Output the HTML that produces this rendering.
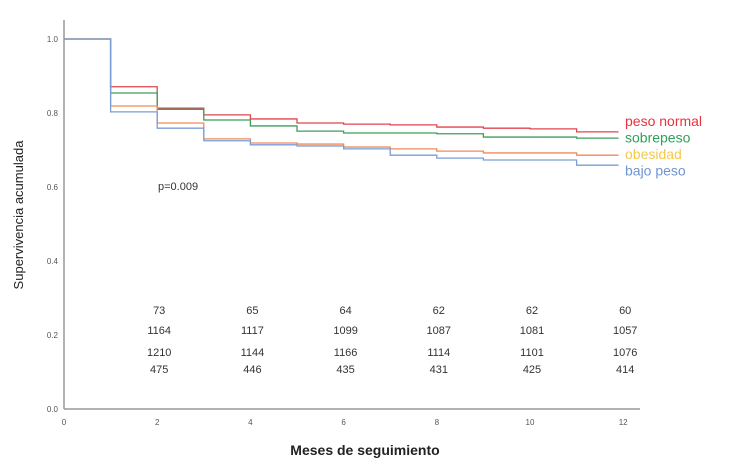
<!DOCTYPE html>
<html><head><meta charset="utf-8"><style>
body{margin:0;background:#fff;width:750px;height:469px;overflow:hidden;font-family:"Liberation Sans",sans-serif}
svg text{font-family:"Liberation Sans",sans-serif}
</style></head><body>
<svg id="chart" width="750" height="469" xmlns="http://www.w3.org/2000/svg">
<g id="axes"></g><g id="series"></g><g id="risk"></g><g id="legend"></g>
<text x="158" y="190" font-size="11" fill="#333">p=0.009</text>
<text x="365" y="455" font-size="14" font-weight="bold" text-anchor="middle" fill="#222">Meses de seguimiento</text>
<text transform="translate(23,215) rotate(-90)" font-size="13" text-anchor="middle" fill="#222">Supervivencia acumulada</text>
</svg>
<script>
const months=[0,1,2,3,4,5,6,7,8,9,10,11,11.9];
const seriesNames=["peso normal","sobrepeso","obesidad","bajo peso"];
const pesoNormal=[1,0.871,0.813,0.795,0.784,0.773,0.770,0.768,0.762,0.759,0.757,0.749,0.749];
const sobrepeso=[1,0.854,0.810,0.781,0.765,0.751,0.746,0.746,0.744,0.735,0.735,0.732,0.732];
const obesidad=[1,0.819,0.773,0.730,0.719,0.716,0.708,0.703,0.697,0.692,0.692,0.686,0.686];
const bajoPeso=[1,0.803,0.759,0.725,0.714,0.711,0.703,0.686,0.678,0.673,0.673,0.659,0.659];
const xTicks=[0,2,4,6,8,10,12];
const yTicks=[0,0.2,0.4,0.6,0.8,1.0];
const riskMonths=[2,4,6,8,10,12];
const riskNormal=[73,65,64,62,62,60];
const riskSobre=[1164,1117,1099,1087,1081,1057];
const riskObes=[1210,1144,1166,1114,1101,1076];
const riskBajo=[475,446,435,431,425,414];
const colors=["#e0454f","#3f9e5a","#f08a5a","#7a9fd6"];
const legendColors=["#e8323e","#2ea05a","#f5c84a","#6f95cf"];
const X=m=>64+m*46.6, Y=v=>409-v*370;
const NS="http://www.w3.org/2000/svg";
function mk(tag,attrs,parent){const e=document.createElementNS(NS,tag);for(const k in attrs)e.setAttribute(k,attrs[k]);parent.appendChild(e);return e;}
const ax=document.getElementById('axes');
let l=mk('line',{x1:64,y1:20,x2:64,y2:409,stroke:'#999','stroke-width':1.5},ax);

l=mk('line',{x1:64,y1:409,x2:640,y2:409,stroke:'#999','stroke-width':1.5},ax);

xTicks.forEach(t=>{const e=mk('text',{x:X(t),y:425,'font-size':8,'text-anchor':'middle',fill:'#555'},ax);e.textContent=t;
});
yTicks.forEach(t=>{const e=mk('text',{x:58,y:Y(t)+3,'font-size':8,'text-anchor':'end',fill:'#555'},ax);e.textContent=t.toFixed(1);
});
const sg=document.getElementById('series');
[pesoNormal,sobrepeso,obesidad,bajoPeso].forEach((vals,i)=>{
 let d='M'+X(months[0])+','+Y(vals[0]);
 for(let k=1;k<months.length;k++){d+=' H'+X(months[k])+' V'+Y(vals[k]);}
 const p=mk('path',{d:d,fill:'none',stroke:colors[i],'stroke-width':1.3},sg);
 
 
 const t=mk('text',{x:625,y:126+i*16.5,'font-size':14,fill:legendColors[i]},document.getElementById('legend'));
 t.textContent=seriesNames[i];
 
 
});
const rg=document.getElementById('risk');
const rowsY=[314,334,356,373];
[riskNormal,riskSobre,riskObes,riskBajo].forEach((row,r)=>{
 row.forEach((v,k)=>{const e=mk('text',{x:X(riskMonths[k])+2,y:rowsY[r],'font-size':11,'text-anchor':'middle',fill:'#333'},rg);e.textContent=v;
 });
});
</script>
</body></html>
